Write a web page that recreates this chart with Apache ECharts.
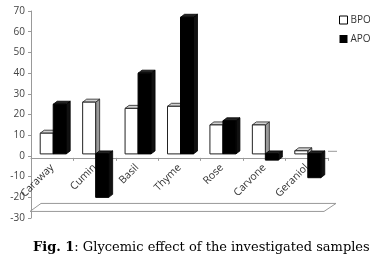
<!DOCTYPE html>
<html>
<head>
<meta charset="utf-8">
<script src="https://cdn.jsdelivr.net/npm/echarts@6/dist/echarts.min.js"></script>
<style>
  html, body { margin: 0; padding: 0; background: #fff; }
  #chart { width: 370px; height: 255px; }
</style>
</head>
<body>
<div id="chart"></div>
<script>
const categories = ['Caraway', 'Cumin', 'Basil', 'Thyme', 'Rose', 'Carvone', 'Geraniol'];
const bpo = [10, 25, 22, 23, 14, 14, 1.5];
const apo = [24, -21, 39, 66, 16, -3, -11.5];
const yTicks = { min: -30, max: 70, step: 10 };

const chart = echarts.init(document.getElementById('chart'));

// pseudo 3D column like the old excel chart
const barW = 13, dx = 4, dy = 3;
function render3d(params, api) {
  const i = api.value(0);
  const v = api.value(1);
  const c = api.coord([i, v]);
  const z = api.coord([i, 0]);
  const isB = params.seriesIndex === 0;
  const x0 = isB ? c[0] - barW + 1 : c[0] + 1;
  const top = Math.min(c[1], z[1]) - 2;
  const bot = Math.max(c[1], z[1]) - 2;
  const front = isB ? '#fff' : '#000';
  const topC = isB ? '#d0d0d0' : '#222';
  const sideC = isB ? '#9a9a9a' : '#111';
  const stroke = isB ? '#222' : '#000';
  return {
    type: 'group',
    children: [
      { type: 'polygon', shape: { points: [[x0 + barW, top], [x0 + barW + dx, top - dy], [x0 + barW + dx, bot - dy], [x0 + barW, bot]] },
        style: { fill: sideC, stroke: stroke, lineWidth: 0.8 } },
      { type: 'polygon', shape: { points: [[x0, top], [x0 + dx, top - dy], [x0 + barW + dx, top - dy], [x0 + barW, top]] },
        style: { fill: topC, stroke: stroke, lineWidth: 0.8 } },
      { type: 'rect', shape: { x: x0, y: top, width: barW, height: bot - top },
        style: { fill: front, stroke: stroke, lineWidth: 1 } }
    ]
  };
}

chart.setOption({
  animation: false,
  textStyle: { fontFamily: 'Open Sans, sans-serif' },
  title: {
    text: '{b|Fig. 1}: Glycemic effect of the investigated samples',
    left: 28, top: 236,
    textStyle: {
      fontFamily: 'DejaVu Serif', fontSize: 13, fontWeight: 'normal', color: '#000',
      rich: { b: { fontFamily: 'DejaVu Serif', fontSize: 13, fontWeight: 'bold', color: '#000' } }
    }
  },
  legend: {
    orient: 'vertical', left: 334, top: 10, itemGap: 9,
    itemWidth: 8, itemHeight: 8,
    textStyle: { fontSize: 10, color: '#333', padding: [0, 0, 0, -2] },
    data: [
      { name: 'BPO', icon: 'rect', itemStyle: { color: '#fff', borderColor: '#000', borderWidth: 1 } },
      { name: 'APO', icon: 'rect', itemStyle: { color: '#000' } }
    ]
  },
  grid: { left: 31, right: 42, top: 11, bottom: 37 },
  xAxis: {
    type: 'category',
    data: categories,
    axisLine: { onZero: false, lineStyle: { color: '#999' } },
    axisTick: { show: true, length: 3, lineStyle: { color: '#999' } },
    axisLabel: { rotate: 45, fontSize: 10.5, color: '#333', margin: 8 }
  },
  yAxis: {
    type: 'value',
    min: yTicks.min, max: yTicks.max, interval: yTicks.step,
    splitLine: { show: false },
    axisLine: { show: true, lineStyle: { color: '#999' } },
    axisTick: { show: true, length: 3, lineStyle: { color: '#999' } },
    axisLabel: { fontSize: 10, color: '#444', margin: 6 }
  },
  series: [
    { name: 'BPO', type: 'custom', renderItem: render3d, encode: { x: 0, y: 1 },
      itemStyle: { color: '#fff', borderColor: '#000' },
      data: bpo.map((v, i) => [i, v]) },
    { name: 'APO', type: 'custom', renderItem: render3d, encode: { x: 0, y: 1 },
      itemStyle: { color: '#000' },
      data: apo.map((v, i) => [i, v]) }
  ]
});

// move the category axis up to the zero line, and draw the 3d floor
const yFloor = chart.convertToPixel({ yAxisIndex: 0 }, yTicks.min);
const yZero = chart.convertToPixel({ yAxisIndex: 0 }, 0);
const xL = 31, xR = 370 - 42;
chart.setOption({
  xAxis: { offset: -(yFloor - yZero) },
  graphic: [{
    type: 'polyline', silent: true,
    shape: { points: [[xL - 1, yFloor], [xL + 10, yFloor - 8], [xR + 8, yFloor - 8], [xR - 4, yFloor], [xL - 1, yFloor]] },
    style: { stroke: '#999', lineWidth: 1, fill: null }
  }, {
    type: 'line', silent: true,
    shape: { x1: xR, y1: yZero, x2: xR + 9, y2: yZero },
    style: { stroke: '#999', lineWidth: 1 }
  }]
});
</script>
</body>
</html>
